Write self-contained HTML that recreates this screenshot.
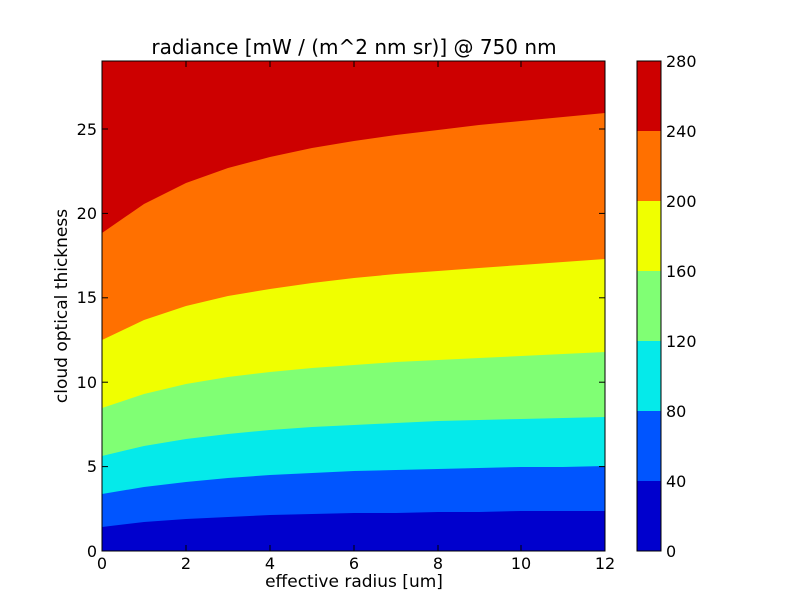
<!DOCTYPE html>
<html><head><style>body{margin:0;background:#fff}svg{display:block}text{font-family:"DejaVu Sans","Liberation Sans",sans-serif}</style></head><body>
<svg width="812" height="612" viewBox="0 0 812 612">
<rect width="812" height="612" fill="#fff"/>
<rect x="102" y="61" width="503" height="490" fill="#cd0000"/>
<polygon fill="#ff7000" points="102,233 144,204 186,183 228,168 270,157 312,148 354,141 396,135 438,130 479,125 521,121 563,117 605,113 605,551 102,551"/>
<polygon fill="#f0ff00" points="102,340 144,320 186,306 228,296 270,289 312,283 354,278 396,274 438,271 479,268 521,265 563,262 605,259 605,551 102,551"/>
<polygon fill="#80ff74" points="102,408 144,394 186,384 228,377 270,372 312,368 354,365 396,362 438,360 479,358 521,356 563,354 605,352 605,551 102,551"/>
<polygon fill="#05eaea" points="102,456 144,446 186,439 228,434 270,430 312,427 354,425 396,423 438,421 479,420 521,419 563,418 605,417 605,551 102,551"/>
<polygon fill="#0055ff" points="102,494 144,487 186,482 228,478 270,475 312,473 354,471 396,470 438,469 479,468 521,467 563,467 605,466 605,551 102,551"/>
<polygon fill="#0000cd" points="102,527 144,522 186,519 228,517 270,515 312,514 354,513 396,513 438,512 479,512 521,511 563,511 605,511 605,551 102,551"/>
<rect x="102" y="61" width="503" height="490" fill="none" stroke="#000" stroke-width="1"/>
<g stroke="#000">
<line x1="102" y1="551" x2="102" y2="545"/><line x1="186" y1="551" x2="186" y2="545"/><line x1="270" y1="551" x2="270" y2="545"/><line x1="354" y1="551" x2="354" y2="545"/><line x1="438" y1="551" x2="438" y2="545"/><line x1="521" y1="551" x2="521" y2="545"/><line x1="605" y1="551" x2="605" y2="545"/>
<line x1="102" y1="61" x2="102" y2="67"/><line x1="186" y1="61" x2="186" y2="67"/><line x1="270" y1="61" x2="270" y2="67"/><line x1="354" y1="61" x2="354" y2="67"/><line x1="438" y1="61" x2="438" y2="67"/><line x1="521" y1="61" x2="521" y2="67"/>
<line x1="102" y1="466.6" x2="108" y2="466.6"/><line x1="102" y1="382.2" x2="108" y2="382.2"/><line x1="102" y1="297.8" x2="108" y2="297.8"/><line x1="102" y1="213.4" x2="108" y2="213.4"/><line x1="102" y1="129" x2="108" y2="129"/>
<line x1="605" y1="466.6" x2="599" y2="466.6"/><line x1="605" y1="382.2" x2="599" y2="382.2"/><line x1="605" y1="297.8" x2="599" y2="297.8"/><line x1="605" y1="213.4" x2="599" y2="213.4"/><line x1="605" y1="129" x2="599" y2="129"/>
</g>
<g font-size="16" text-anchor="middle" fill="#000">
<text x="102" y="569">0</text><text x="186" y="569">2</text><text x="270" y="569">4</text><text x="354" y="569">6</text><text x="438" y="569">8</text><text x="521" y="569">10</text><text x="605" y="569">12</text>
<text x="354" y="587" font-size="17">effective radius [um]</text>
<text x="354" y="54" font-size="20">radiance [mW / (m^2 nm sr)] @ 750 nm</text>
</g>
<g font-size="16" text-anchor="end">
<text x="97" y="557">0</text><text x="97" y="472">5</text><text x="97" y="388">10</text><text x="97" y="303">15</text><text x="97" y="219">20</text><text x="97" y="135">25</text>
</g>
<text transform="translate(67,306) rotate(-90)" font-size="17" text-anchor="middle">cloud optical thickness</text>
<rect x="637" y="481" width="24" height="70" fill="#0000cd"/>
<rect x="637" y="411" width="24" height="70" fill="#0055ff"/>
<rect x="637" y="341" width="24" height="70" fill="#05eaea"/>
<rect x="637" y="271" width="24" height="70" fill="#80ff74"/>
<rect x="637" y="201" width="24" height="70" fill="#f0ff00"/>
<rect x="637" y="131" width="24" height="70" fill="#ff7000"/>
<rect x="637" y="61" width="24" height="70" fill="#cd0000"/>
<rect x="637" y="61" width="24" height="490" fill="none" stroke="#000"/>
<g font-size="16">
<text x="666" y="557">0</text><text x="666" y="487">40</text><text x="666" y="417">80</text><text x="666" y="347">120</text><text x="666" y="277">160</text><text x="666" y="207">200</text><text x="666" y="137">240</text><text x="666" y="67">280</text>
</g>
</svg>
</body></html>
